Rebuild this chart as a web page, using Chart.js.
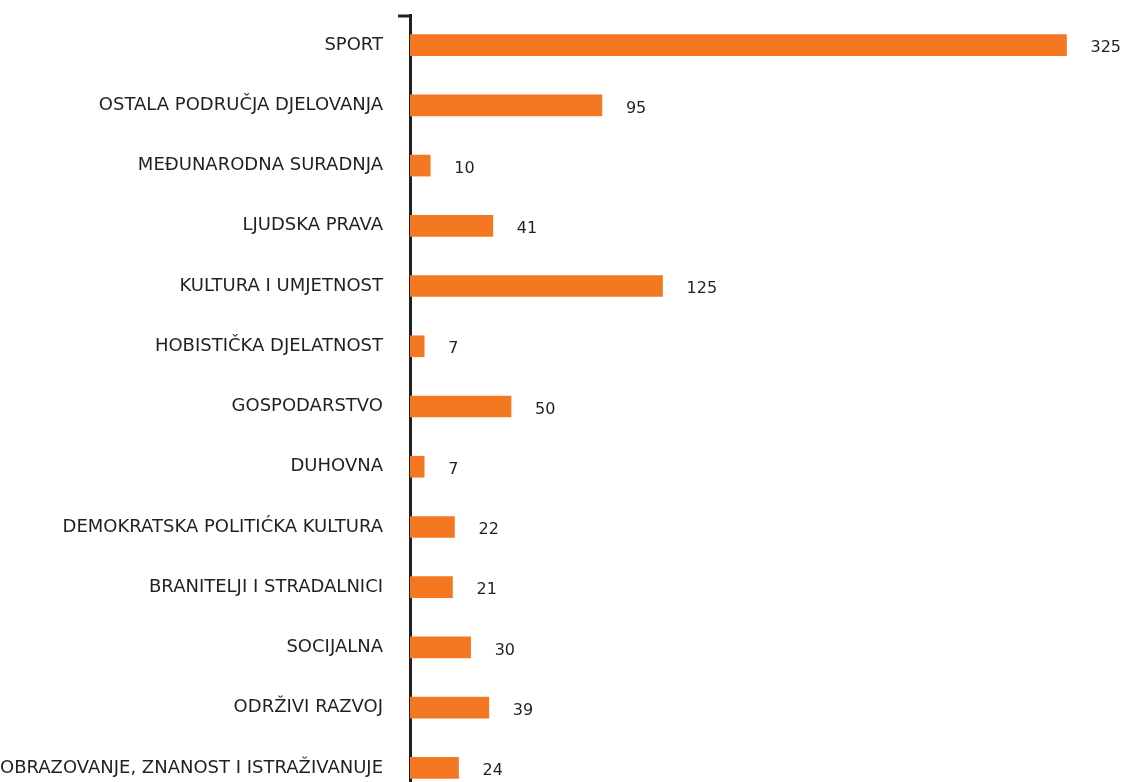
<!DOCTYPE html>
<html>
<head>
<meta charset="utf-8">
<script src="https://cdn.jsdelivr.net/npm/chart.js@4/dist/chart.umd.min.js"></script>
<style>
  html, body { margin: 0; padding: 0; background: #fff; overflow: hidden; }
  #wrap { position: relative; width: 1127px; height: 798px; }
</style>
</head>
<body>
<div id="wrap"><canvas id="udruge"></canvas></div>
<script>
// Broj udruga po područjima djelovanja
const kategorije = [
    "SPORT",
    "OSTALA PODRUČJA DJELOVANJA",
    "MEĐUNARODNA SURADNJA",
    "LJUDSKA PRAVA",
    "KULTURA I UMJETNOST",
    "HOBISTIČKA DJELATNOST",
    "GOSPODARSTVO",
    "DUHOVNA",
    "DEMOKRATSKA POLITIĆKA KULTURA",
    "BRANITELJI I STRADALNICI",
    "SOCIJALNA",
    "ODRŽIVI RAZVOJ",
    "OBRAZOVANJE, ZNANOST I ISTRAŽIVANUJE"
];
const brojUdruga = [325, 95, 10, 41, 125, 7, 50, 7, 22, 21, 30, 39, 24];

const NARANCASTA = "#f47721";
const TAMNA = "#231f20";
const FONT = "'DejaVu Sans', sans-serif";
const RAZMAK = 27;

// Vrijednosti desno od stupaca
const oznakeVrijednosti = {
    id: "oznakeVrijednosti",
    afterDatasetsDraw(chart) {
        const ctx = chart.ctx;
        const meta = chart.getDatasetMeta(0);
        ctx.save();
        ctx.fillStyle = TAMNA;
        ctx.font = "16px " + FONT;
        ctx.textAlign = "left";
        ctx.textBaseline = "middle";
        meta.data.forEach((bar, i) => {
            ctx.fillText(String(brojUdruga[i]), bar.x + 24, bar.y + 3);
        });
        ctx.restore();
    }
};

// Kratka crtica na vrhu osi
const crticaOsi = {
    id: "crticaOsi",
    afterDraw(chart) {
        const y = chart.scales.y;
        const ctx = chart.ctx;
        ctx.save();
        ctx.strokeStyle = TAMNA;
        ctx.lineWidth = 3;
        ctx.beginPath();
        ctx.moveTo(y.right - 12, chart.chartArea.top + 1);
        ctx.lineTo(y.right + 1.5, chart.chartArea.top + 1);
        ctx.stroke();
        ctx.restore();
    }
};

new Chart(document.getElementById("udruge").getContext("2d"), {
    type: "bar",
    plugins: [oznakeVrijednosti, crticaOsi],
    data: {
        labels: kategorije,
        datasets: [{
            data: brojUdruga,
            backgroundColor: NARANCASTA,
            barThickness: 21,
            borderWidth: 0
        }]
    },
    options: {
        indexAxis: "y",
        responsive: true,
        maintainAspectRatio: false,
        animation: false,
        layout: { padding: { top: 15, right: 10, left: 0, bottom: 0 } },
        plugins: {
            legend: { display: false },
            tooltip: { enabled: false }
        },
        scales: {
            x: {
                display: false,
                min: 0,
                max: 350
            },
            y: {
                // razmak natpisa samo s desne strane, bez dodatnih rubova
                afterFit(scale) {
                    scale.paddingTop = 0;
                    scale.paddingBottom = 0;
                    scale.width -= RAZMAK;
                },
                grid: { display: false, drawTicks: false },
                border: { display: true, color: TAMNA, width: 3 },
                ticks: {
                    color: TAMNA,
                    padding: RAZMAK,
                    font: { family: FONT, size: 18 }
                }
            }
        }
    }
});
</script>
</body>
</html>
